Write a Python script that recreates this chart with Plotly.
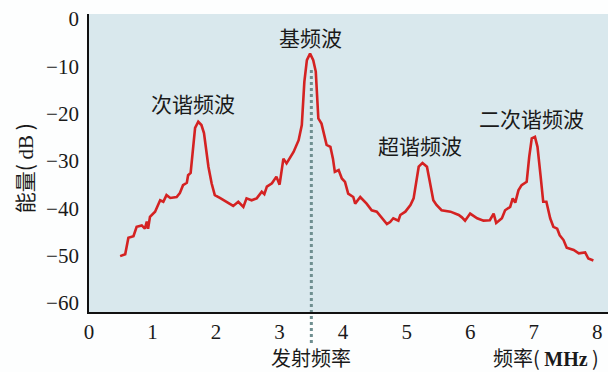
import plotly.graph_objects as go

freq = [0.49, 0.57, 0.62, 0.70, 0.75, 0.83, 0.88, 0.91, 0.93, 0.96, 1.04, 1.12, 1.17, 1.22,
        1.28, 1.38, 1.43, 1.48, 1.54, 1.56, 1.60, 1.67, 1.72, 1.77, 1.81, 1.88, 1.93, 1.98,
        2.06, 2.17, 2.27, 2.35, 2.43, 2.48, 2.56, 2.64, 2.72, 2.76, 2.80, 2.88, 2.95, 3.00,
        3.06, 3.11, 3.22, 3.30, 3.35, 3.39, 3.43, 3.48, 3.53, 3.57, 3.61, 3.66, 3.74, 3.80,
        3.84, 3.87, 3.93, 3.98, 4.03, 4.08, 4.16, 4.19, 4.27, 4.37, 4.45, 4.53, 4.61, 4.69,
        4.74, 4.79, 4.87, 4.90, 4.98, 5.06, 5.11, 5.15, 5.19, 5.25, 5.32, 5.36, 5.42, 5.47,
        5.55, 5.69, 5.82, 5.87, 5.92, 6.00, 6.11, 6.21, 6.31, 6.37, 6.41, 6.50, 6.55, 6.63,
        6.67, 6.71, 6.76, 6.81, 6.89, 6.93, 6.97, 7.02, 7.06, 7.11, 7.15, 7.20, 7.26, 7.31,
        7.37, 7.41, 7.47, 7.52, 7.63, 7.71, 7.81, 7.86, 7.94]
energy = [-50.1, -49.7, -46.2, -45.9, -43.9, -43.6, -44.3, -42.8, -44.3, -41.8, -40.7, -38.3, -38.6, -37.2,
          -37.8, -37.6, -36.8, -35.1, -34.6, -33.0, -32.5, -23.0, -21.7, -22.4, -24.1, -31.2, -34.7, -37.2,
          -37.8, -38.6, -39.5, -38.6, -39.7, -37.9, -38.3, -37.9, -36.5, -37.0, -35.4, -34.7, -33.3, -35.0,
          -29.5, -30.5, -28.1, -25.6, -22.4, -13.3, -8.7, -7.3, -8.7, -11.1, -21.0, -22.1, -26.6, -27.0,
          -29.5, -32.3, -31.9, -33.7, -34.4, -36.9, -37.6, -39.0, -37.6, -39.0, -40.4, -40.7, -42.1, -43.3,
          -42.9, -42.1, -42.6, -41.4, -40.7, -39.3, -37.9, -34.0, -31.2, -30.4, -31.2, -34.0, -38.3, -39.3,
          -40.4, -40.7, -41.4, -41.9, -42.6, -41.1, -42.1, -42.6, -42.5, -41.1, -43.1, -42.1, -40.4, -39.7,
          -37.9, -38.8, -36.2, -35.1, -34.4, -29.1, -25.2, -24.9, -27.0, -33.3, -38.6, -38.6, -42.1, -43.9,
          -44.3, -45.7, -46.7, -48.3, -48.8, -49.5, -49.3, -50.6, -51.0]

x_ticks = [0, 1, 2, 3, 4, 5, 6, 7, 8]
y_ticks = [0, -10, -20, -30, -40, -50, -60]
y_ticklabels = ["0", "−10", "−20", "−30", "−40", "−50", "−60"]

peak_labels = ["次谐频波", "基频波", "超谐频波", "二次谐频波"]
peak_x = [1.64, 3.48, 5.21, 6.97]
peak_y = [-17.8, -3.8, -26.6, -21.0]

emit_freq = 3.5

YMIN, YMAX = -61.9, 1.06

fig = go.Figure()
fig.add_trace(go.Scatter(
    x=freq, y=energy, mode="lines",
    line=dict(color="#d42222", width=2.6),
    hoverinfo="skip", showlegend=False,
))

# dotted emission-frequency line (extends below the axis)
fig.add_shape(
    type="line", xref="x", yref="paper",
    x0=emit_freq, x1=emit_freq,
    y0=-0.104, y1=(-10.5 - YMIN) / (YMAX - YMIN),
    line=dict(color="#6f8f90", width=3, dash="dot"),
    layer="below",
)

cjk = "Noto Sans CJK SC"
for t, x, y in zip(peak_labels, peak_x, peak_y):
    fig.add_annotation(x=x, y=y, text=t, showarrow=False,
                       font=dict(family=cjk, size=21, color="#1a1a1a"))

fig.add_annotation(xref="x", yref="paper", x=emit_freq, y=-0.153, text="发射频率",
                   showarrow=False, xanchor="center", yanchor="middle",
                   font=dict(family=cjk, size=20, color="#1a1a1a"))
fig.add_annotation(xref="paper", yref="paper", x=0.88, y=-0.153,
                   text="频率( <span style='font-family:Liberation Serif'><b>MHz</b></span> )",
                   showarrow=False, xanchor="center", yanchor="middle",
                   font=dict(family=cjk, size=20, color="#1a1a1a"))
fig.add_annotation(xref="paper", yref="paper", x=-0.125, y=0.483,
                   text="能量( <span style='font-family:Liberation Serif'>dB</span> )",
                   textangle=-90, showarrow=False, xanchor="center", yanchor="middle",
                   font=dict(family=cjk, size=21, color="#1a1a1a"))

fig.update_layout(
    width=608, height=372,
    margin=dict(l=89, r=0, t=14, b=60, autoexpand=False),
    paper_bgcolor="#fdfefe",
    plot_bgcolor="#d9e8ed",
    showlegend=False,
)
fig.update_xaxes(
    range=[0, 8.17], tickvals=x_ticks, ticktext=[str(v) for v in x_ticks],
    showgrid=False, zeroline=False, showline=True, linecolor="#111", linewidth=1.8,
    ticks="", ticklabelstandoff=0, automargin=False,
    tickfont=dict(family="Liberation Serif", size=21, color="#1a1a1a"),
)
fig.update_yaxes(
    range=[YMIN, YMAX], tickvals=y_ticks, ticktext=y_ticklabels,
    showgrid=False, zeroline=False, showline=True, linecolor="#111", linewidth=1.8,
    ticks="", ticklabelstandoff=4, automargin=False,
    tickfont=dict(family="Liberation Serif", size=21, color="#1a1a1a"),
)

fig.write_html(
    "out.html",
    config={"displayModeBar": False},
    post_script="document.body.style.margin='0';document.body.style.overflow='hidden';",
)
